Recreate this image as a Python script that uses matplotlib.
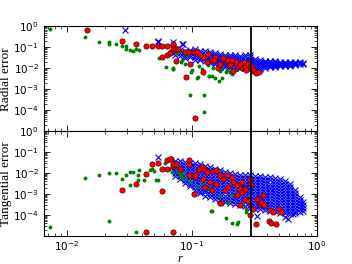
import matplotlib
matplotlib.use("Agg")
import matplotlib.pyplot as plt
from matplotlib.ticker import LogLocator, NullFormatter

# ---- data ----
# blue crosses: dense cloud, given column by column (r, [errors])
col_r = [0.073, 0.080, 0.088, 0.096, 0.106, 0.116, 0.127, 0.139, 0.153,
         0.168, 0.184, 0.201, 0.221, 0.242, 0.266, 0.291, 0.319, 0.350,
         0.384, 0.421, 0.461, 0.506, 0.555, 0.608, 0.667, 0.731, 0.773]

blue_rad_cols = [
    [0.08, 0.06, 0.045],
    [0.075, 0.055, 0.04],
    [0.07, 0.05, 0.038, 0.03],
    [0.078, 0.06, 0.045, 0.033],
    [0.08, 0.06, 0.045, 0.034, 0.026],
    [0.07, 0.055, 0.042, 0.032, 0.025],
    [0.065, 0.05, 0.04, 0.03, 0.023],
    [0.06, 0.048, 0.038, 0.029, 0.022, 0.017],
    [0.055, 0.045, 0.035, 0.027, 0.021, 0.016],
    [0.05, 0.04, 0.032, 0.025, 0.019, 0.015, 0.012],
    [0.045, 0.036, 0.029, 0.023, 0.018, 0.014, 0.011],
    [0.045, 0.036, 0.028, 0.022, 0.017, 0.013, 0.0105],
    [0.042, 0.034, 0.027, 0.021, 0.017, 0.013, 0.0105],
    [0.04, 0.032, 0.026, 0.021, 0.016, 0.013, 0.0105],
    [0.042, 0.033, 0.026, 0.02, 0.016, 0.013, 0.0105],
    [0.045, 0.034, 0.026, 0.02, 0.016, 0.0125, 0.0098],
    [0.028, 0.022, 0.018, 0.015, 0.012, 0.0095, 0.008],
    [0.024, 0.02, 0.017, 0.014, 0.012, 0.0098],
    [0.023, 0.02, 0.017, 0.0145, 0.0125, 0.0105],
    [0.022, 0.019, 0.0165, 0.0145, 0.0125, 0.011],
    [0.022, 0.019, 0.0165, 0.0145, 0.0125, 0.011],
    [0.021, 0.0185, 0.0165, 0.0145, 0.013],
    [0.021, 0.0185, 0.0165, 0.0145, 0.013],
    [0.021, 0.0185, 0.0165, 0.015, 0.0135],
    [0.02, 0.018, 0.0165, 0.015],
    [0.019, 0.017, 0.0155],
    [0.018, 0.0165],
]
blue_rad_extra_r = [0.029, 0.054, 0.054, 0.07, 0.084, 0.085]
blue_rad_extra_v = [0.66, 0.18, 0.20, 0.19, 0.14, 0.15]

blue_tan_cols = [
    [0.037, 0.026, 0.019, 0.0136, 0.0098, 0.007],
    [0.037, 0.026, 0.019, 0.0136, 0.0098, 0.007, 0.005],
    [0.034, 0.025, 0.018, 0.013, 0.0093, 0.0067, 0.0048, 0.0035],
    [0.032, 0.023, 0.017, 0.012, 0.0088, 0.0063, 0.0045, 0.0032, 0.0024],
    [0.03, 0.022, 0.016, 0.0115, 0.0083, 0.006, 0.0043, 0.0031, 0.0022, 0.0016],
    [0.026, 0.019, 0.0136, 0.0098, 0.007, 0.005, 0.0036, 0.0026, 0.0019, 0.0014, 0.0011],
    [0.022, 0.016, 0.0115, 0.0083, 0.006, 0.0043, 0.0031, 0.0022, 0.0016, 0.0012, 0.00085],
    [0.019, 0.0136, 0.0098, 0.007, 0.005, 0.0036, 0.0026, 0.0019, 0.0014, 0.001, 0.0007],
    [0.015, 0.011, 0.008, 0.0058, 0.0042, 0.003, 0.0022, 0.0016, 0.0011, 0.0008, 0.00058],
    [0.0136, 0.0098, 0.007, 0.005, 0.0036, 0.0026, 0.0019, 0.0014, 0.00097, 0.0007, 0.0005],
    [0.0115, 0.0083, 0.006, 0.0043, 0.0031, 0.0022, 0.0016, 0.0012, 0.00085, 0.0006, 0.00043],
    [0.0098, 0.007, 0.005, 0.0036, 0.0026, 0.0019, 0.0014, 0.001, 0.0007, 0.0005, 0.00036],
    [0.009, 0.0065, 0.0047, 0.0034, 0.0024, 0.0017, 0.0012, 0.0009, 0.00065, 0.00047, 0.00034],
    [0.0083, 0.006, 0.0043, 0.0031, 0.0022, 0.0016, 0.0012, 0.00085, 0.0006, 0.00043, 0.00031],
    [0.0078, 0.0056, 0.004, 0.0029, 0.0021, 0.0015, 0.0011, 0.0008, 0.00057, 0.0004, 0.00028],
    [0.0085, 0.006, 0.0043, 0.0031, 0.0022, 0.0016, 0.0012, 0.00085, 0.0006, 0.00043, 0.00031, 0.00022],
    [0.0075, 0.0054, 0.0039, 0.0028, 0.002, 0.0014, 0.001, 0.00075, 0.00054, 0.00039, 0.00028, 0.0002],
    [0.007, 0.005, 0.0036, 0.0026, 0.0019, 0.0014, 0.001, 0.0007, 0.0005, 0.00036, 0.00026, 0.00019],
    [0.0066, 0.0048, 0.0034, 0.0025, 0.0018, 0.0013, 0.00093, 0.00067, 0.00048, 0.00034, 0.00025, 0.00018],
    [0.0063, 0.0045, 0.0032, 0.0023, 0.0017, 0.0012, 0.00088, 0.00063, 0.00045, 0.00032, 0.00023, 0.00016],
    [0.0058, 0.0042, 0.003, 0.0022, 0.0016, 0.0011, 0.0008, 0.00058, 0.00042, 0.0003, 0.00022, 0.00015],
    [0.0052, 0.0038, 0.0027, 0.0019, 0.0014, 0.001, 0.0007, 0.0005, 0.00036, 0.00026, 0.00019, 0.00013],
    [0.0042, 0.003, 0.0022, 0.0016, 0.0011, 0.0008, 0.00058, 0.00042, 0.0003, 0.00022, 0.00016, 0.00012],
    [0.003, 0.0022, 0.0016, 0.0011, 0.0008, 0.00058, 0.00042, 0.0003, 0.00022, 0.00016, 0.00011],
    [0.0016, 0.0011, 0.0008, 0.00058, 0.00042, 0.0003, 0.00022, 0.00016, 0.00012],
    [0.00075, 0.00054, 0.00039, 0.00028, 0.0002, 0.00014],
    [0.0004, 0.0003, 0.00022, 0.00016],
]
blue_tan_extra_r = [0.054, 0.071, 0.116, 0.335, 0.555, 0.59, 0.65]
blue_tan_extra_v = [0.057, 0.0136, 0.005, 8.6e-5, 8e-5, 6.6e-5, 1.1e-4]

# red circles
red_rad_r = [0.0145, 0.0275, 0.0358, 0.0426, 0.048, 0.054, 0.058, 0.063, 0.071,
             0.07, 0.07, 0.075, 0.058, 0.063, 0.067, 0.074, 0.078, 0.088, 0.095,
             0.104, 0.109, 0.096, 0.089, 0.123, 0.106, 0.123, 0.131, 0.144,
             0.153, 0.162, 0.168, 0.178, 0.19, 0.201, 0.214, 0.235, 0.25, 0.265,
             0.291, 0.31, 0.325, 0.345, 0.15, 0.116, 0.134, 0.195, 0.226, 0.26,
             0.28, 0.21, 0.242, 0.27, 0.31, 0.30]
red_rad_v = [0.66, 0.21, 0.14, 0.12, 0.12, 0.11, 0.12, 0.12, 0.12,
             0.14, 0.085, 0.085, 0.035, 0.045, 0.054, 0.022, 0.08, 0.06, 0.058,
             0.06, 0.06, 0.016, 0.0039, 0.007, 4.3e-5, 0.033, 0.02, 0.026,
             0.033, 0.0103, 0.016, 0.031, 0.0215, 0.015, 0.0071, 0.0124, 0.0103, 0.011,
             0.0103, 0.0071, 0.006, 0.0066, 0.026, 0.045, 0.05, 0.026, 0.019, 0.021,
             0.0166, 0.026, 0.0166, 0.0086, 0.0096, 0.0133]

red_tan_r = [0.0275, 0.0358, 0.0426, 0.0426, 0.048, 0.054, 0.058, 0.058, 0.063,
             0.063, 0.068, 0.07, 0.071, 0.072, 0.067, 0.071, 0.075, 0.08, 0.094,
             0.095, 0.095, 0.103, 0.106, 0.113, 0.12, 0.127, 0.123, 0.139, 0.148,
             0.157, 0.168, 0.178, 0.184, 0.195, 0.214, 0.228, 0.242, 0.266, 0.28,
             0.291, 0.3, 0.31, 0.29, 0.325, 0.35, 0.36, 0.38, 0.42, 0.45, 0.415,
             0.43, 0.47, 0.5, 0.52, 0.242, 0.25, 0.131, 0.157, 0.168, 0.19, 0.208,
             0.228, 0.25, 0.266, 0.33, 0.37, 0.127, 0.144, 0.17, 0.113, 0.106]
red_tan_v = [1.6e-3, 2.9e-3, 9e-3, 1.6e-5, 0.026, 0.029, 0.016, 1.45e-3, 0.042,
             0.016, 0.047, 0.023, 1.6e-5, 0.027, 0.049, 0.028, 0.028, 0.0164, 0.0085,
             0.026, 0.041, 1.05e-3, 6.5e-3, 0.0136, 0.0195, 0.0136, 0.0055, 0.0037, 0.012,
             0.0032, 3.7e-4, 0.0055, 0.0015, 0.0022, 0.0037, 8.7e-4, 0.0018, 6e-4, 4.6e-4,
             0.005, 0.0032, 2.0e-4, 1.0e-4, 3.8e-5, 3.5e-4, 4.1e-4, 2.9e-4, 1.7e-4, 1.4e-4, 5e-5,
             4.4e-5, 3.8e-5, 2e-4, 1.4e-4, 2.9e-4, 1.26e-3, 0.0113, 0.0136, 0.0078, 0.0078, 0.0065,
             0.0026, 0.0037, 0.0018, 6e-4, 8.7e-4, 0.0022, 0.0015, 3.7e-4, 0.0164, 0.0078]

# green dots
green_rad_r = [0.0073, 0.0139, 0.018, 0.0215, 0.0215, 0.0245, 0.0275, 0.0295, 0.0295,
               0.032, 0.034, 0.036, 0.038, 0.055, 0.062, 0.071, 0.096, 0.126, 0.126,
               0.07, 0.082, 0.098, 0.112, 0.137, 0.153, 0.166, 0.071, 0.083, 0.088,
               0.1, 0.114, 0.12, 0.11, 0.138, 0.146, 0.173, 0.148, 0.19, 0.2, 0.168,
               0.22, 0.135, 0.116, 0.085, 0.092, 0.076, 0.067, 0.17, 0.187, 0.21, 0.195]
green_rad_v = [0.72, 0.30, 0.19, 0.18, 0.15, 0.15, 0.11, 0.11, 0.085,
               0.079, 0.065, 0.085, 0.075, 0.031, 0.0115, 0.0095, 5.2e-4, 5.4e-4, 8.5e-5,
               0.0092, 0.021, 0.007, 0.0038, 0.0044, 0.0034, 0.0024, 0.0103, 0.026, 0.016,
               0.0079, 0.013, 0.0093, 0.0036, 0.0041, 0.0041, 0.0036, 0.0103, 0.0086, 0.0067, 0.0071,
               0.0086, 0.015, 0.045, 0.07, 0.042, 0.054, 0.07, 0.012, 0.0069, 0.0055, 0.021]

green_tan_r = [0.0073, 0.0139, 0.018, 0.0215, 0.0215, 0.0245, 0.0275, 0.0295, 0.032,
               0.032, 0.034, 0.036, 0.037, 0.037, 0.041, 0.048, 0.05, 0.054, 0.142,
               0.187, 0.061, 0.065, 0.069, 0.076, 0.08, 0.083, 0.078, 0.046, 0.052,
               0.038, 0.085, 0.091, 0.096, 0.11, 0.144, 0.148, 0.168, 0.208, 0.208,
               0.228, 0.232, 0.195, 0.25, 0.27, 0.27, 0.123, 0.135]
green_tan_v = [2.6e-5, 6.1e-3, 8.5e-3, 0.01, 5.3e-5, 0.01, 5.2e-3, 8.5e-3, 0.0118,
               2.7e-3, 0.0118, 1.6e-5, 8.5e-3, 4.9e-3, 4.9e-3, 0.016, 0.012, 4.5e-3, 1.5e-4,
               7.4e-5, 0.029, 0.0164, 0.0113, 0.0195, 0.0078, 0.0058, 0.0113, 0.0136, 0.0049,
               0.0136, 0.0113, 0.0065, 0.0037, 0.0022, 1.5e-4, 0.0015, 7.8e-4, 9.4e-4, 4.4e-5,
               3.8e-5, 4.5e-5, 4.1e-4, 2.9e-4, 2.0e-4, 1.4e-4, 0.0032, 0.0018]

r_cut = 0.3
ylabels = ["Radial error", "Tangential error"]


def flatten(cols, extra_r, extra_v):
    rs, vs = list(extra_r), list(extra_v)
    for r, col in zip(col_r, cols):
        rs += [r] * len(col)
        vs += col
    return rs, vs


plt.rcParams['xtick.direction'] = 'in'
plt.rcParams['ytick.direction'] = 'in'
plt.rcParams['xtick.top'] = True
plt.rcParams['ytick.right'] = True
plt.rcParams['font.size'] = 7.5

fig, (ax1, ax2) = plt.subplots(2, 1, sharex=True, figsize=(3.52, 2.64), dpi=100)
fig.subplots_adjust(left=0.124, right=0.900, top=0.900, bottom=0.106, hspace=0)

panels = [
    (ax1, flatten(blue_rad_cols, blue_rad_extra_r, blue_rad_extra_v),
     (green_rad_r, green_rad_v), (red_rad_r, red_rad_v)),
    (ax2, flatten(blue_tan_cols, blue_tan_extra_r, blue_tan_extra_v),
     (green_tan_r, green_tan_v), (red_tan_r, red_tan_v)),
]

for (ax, blue, green, red), lab in zip(panels, ylabels):
    ax.plot(blue[0], blue[1], 'x', color='blue', ms=4.5, mew=0.8)
    ax.plot(green[0], green[1], 'o', color='green', mec='green', ms=1.8)
    ax.plot(red[0], red[1], 'o', color='red', mec='#500000', mew=0.5, ms=3.8)
    ax.axvline(r_cut, color='black', lw=1.3)
    ax.set_xscale('log')
    ax.set_yscale('log')
    ax.set_ylim(1e-5, 1)
    ax.yaxis.set_major_locator(LogLocator(base=10, numticks=10))
    ax.yaxis.set_minor_locator(LogLocator(base=10, subs=range(2, 10), numticks=10))
    ax.yaxis.set_minor_formatter(NullFormatter())
    ax.set_ylabel(lab, family='Liberation Serif', fontsize=9.5)
    ax.yaxis.set_label_coords(-0.115, 0.5)
    ax.tick_params(which='major', length=4, width=0.6)
    ax.tick_params(which='minor', length=2, width=0.5)

ax2.tick_params(axis='x', pad=2)
ax2.set_xlim(0.0065, 1)
ax2.set_xlabel('r', family='Liberation Serif', style='italic', fontsize=9)
ax2.xaxis.set_label_coords(0.5, -0.165)

fig.canvas.draw()
for ax in (ax1, ax2):
    for tick in ax.yaxis.get_major_ticks():
        if tick.get_loc() < 5e-5:
            tick.label1.set_visible(False)

fig.savefig('out.png', dpi=100)
